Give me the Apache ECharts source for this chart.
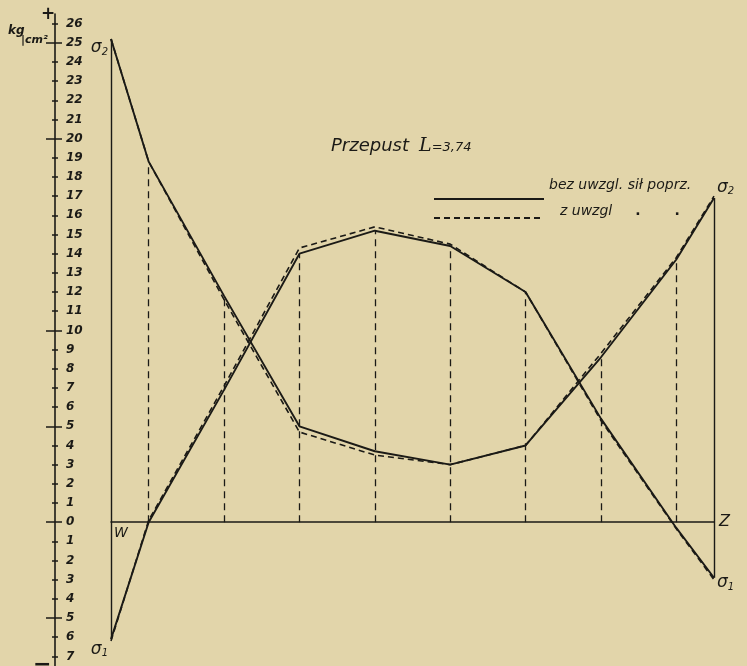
<!DOCTYPE html>
<html>
<head>
<meta charset="utf-8">
<script src="https://cdn.jsdelivr.net/npm/echarts@6/dist/echarts.min.js"></script>
<style>
  html, body { margin: 0; padding: 0; background: #e2d5aa; }
  #chart { width: 747px; height: 666px; }
</style>
</head>
<body>
<div id="chart"></div>
<script>
// Stations along the culvert span (section positions)
const stations = [0, 0.5, 1.5, 2.5, 3.5, 4.5, 5.5, 6.5, 7.5, 8];

// Edge stresses in kg/cm2, without shear forces ("bez uwzgl.")
const sigma2Bez = [25.2, 18.8, 11.8, 5.0, 3.7, 3.0, 4.0, 8.6, 13.7, 16.9];
const sigma1Bez = [-6.1, 0.0, 6.9, 14.0, 15.2, 14.4, 12.0, 5.4, -0.3, -2.9];

// Edge stresses with shear forces taken into account ("z uwzgl.")
const sigma2Z = [25.2, 18.8, 11.6, 4.7, 3.5, 3.0, 4.0, 8.8, 13.8, 17.0];
const sigma1Z = [-6.2, 0.1, 7.1, 14.3, 15.4, 14.5, 12.0, 5.3, -0.35, -3.0];

// Stress scale tick labels
const tickLabels = [-7, -6, -5, -4, -3, -2, -1, 0, 1, 2, 3, 4, 5, 6, 7, 8, 9, 10, 11, 12,
  13, 14, 15, 16, 17, 18, 19, 20, 21, 22, 23, 24, 25, 26];
const majorTicks = [-5, 0, 5, 10, 20, 25];

const nameBez = 'bez uwzgl. sił poprz.';
const nameZ = 'z uwzgl';

const INK = '#1b1a16';
const FONT = "'DejaVu Sans', sans-serif";

const chart = echarts.init(document.getElementById('chart'));

function pairs(arr) {
  return stations.map((x, i) => [x, arr[i]]);
}

function sigmaLabel(idx, position, offset) {
  return {
    show: true,
    position: position,
    distance: 3,
    offset: offset,
    formatter: '{s|σ}{n|' + idx + '}',
    rich: {
      s: { fontFamily: FONT, fontStyle: 'italic', fontSize: 17, color: INK },
      n: { fontFamily: FONT, fontStyle: 'italic', fontSize: 10, color: INK, padding: [9, 0, 0, 0] }
    }
  };
}

function withEndLabels(arr, idx, leftOffset, rightOffset) {
  const d = pairs(arr);
  d[0] = { value: d[0], label: sigmaLabel(idx, 'left', leftOffset) };
  const last = d.length - 1;
  d[last] = { value: d[last], label: sigmaLabel(idx, 'right', rightOffset) };
  return d;
}

// Dashed ordinates from the zero line up to the higher of the two curves
const ordinates = stations.slice(1, -1).map((x, k) => {
  const i = k + 1;
  return [{ coord: [x, 0] }, { coord: [x, Math.max(sigma1Bez[i], sigma2Bez[i])] }];
});
// Solid end ordinates joining sigma1 and sigma2 at the supports
const endOrdinates = [0, stations.length - 1].map(i => [
  { coord: [stations[i], sigma1Bez[i]] }, { coord: [stations[i], sigma2Bez[i]] }
]);

const yBase = {
  type: 'value', min: -7.5, max: 26.5, position: 'left', offset: 56,
  splitLine: { show: false }
};

// Legend label: text sits above the key line, the first row higher than the second
const legendText = { fontFamily: FONT, fontStyle: 'italic', fontSize: 14, color: INK, lineHeight: 16 };

const option = {
  backgroundColor: '#e2d5aa',
  animation: false,
  title: {
    left: 326, top: 132,
    text: '{a|Przepust}  {b|L}{c|=3,74}',
    textStyle: {
      rich: {
        a: { fontFamily: FONT, fontStyle: 'italic', fontWeight: 'normal', fontSize: 18, color: INK },
        b: { fontFamily: "'DejaVu Serif', serif", fontStyle: 'italic', fontWeight: 'normal', fontSize: 19, color: INK },
        c: { fontFamily: FONT, fontStyle: 'italic', fontWeight: 'normal', fontSize: 13, color: INK, padding: [3, 0, 0, 0] }
      }
    }
  },
  legend: {
    left: 428, top: 173, orient: 'vertical', padding: 5,
    itemWidth: 110, itemHeight: 12, itemGap: -16, itemStyle: { opacity: 0 },
    data: [nameBez, nameZ],
    formatter: name => name === nameBez
      ? '{u|' + name + '}'
      : '{v|' + name + '}{d|.}{e|.}',
    textStyle: {
      fontFamily: FONT, fontStyle: 'italic', fontSize: 14, color: INK,
      rich: {
        u: Object.assign({}, legendText, { padding: [0, 0, 28, 0] }),
        v: Object.assign({}, legendText, { padding: [0, 0, 14, 11] }),
        d: Object.assign({}, legendText, { fontStyle: 'normal', fontWeight: 'bold', padding: [0, 0, 14, 23] }),
        e: Object.assign({}, legendText, { fontStyle: 'normal', fontWeight: 'bold', padding: [0, 0, 14, 34] })
      }
    }
  },
  grid: { left: 111, right: 33, top: 14, bottom: 0 },
  xAxis: {
    type: 'value', min: 0, max: 8,
    axisLine: { show: true, onZero: true, lineStyle: { color: INK, width: 1.5 } },
    axisTick: { show: false },
    axisLabel: { show: false },
    splitLine: { show: false },
    name: 'Z', nameLocation: 'end', nameGap: 5,
    nameTextStyle: { fontFamily: FONT, fontStyle: 'italic', fontSize: 16, color: INK }
  },
  yAxis: [
    Object.assign({}, yBase, {
      axisLine: { show: true, onZero: false, lineStyle: { color: INK, width: 1.6 } },
      axisTick: { show: true, inside: true, length: 3, customValues: tickLabels, lineStyle: { color: INK, width: 1.5 } },
      axisLabel: {
        show: true, inside: true, margin: 11, customValues: tickLabels,
        formatter: v => String(Math.abs(v)),
        fontFamily: FONT, fontStyle: 'italic', fontWeight: 'bold', fontSize: 12, color: INK
      }
    }),
    Object.assign({}, yBase, {
      axisLine: { show: false, onZero: false },
      axisTick: { show: true, inside: false, length: 3, customValues: tickLabels, lineStyle: { color: INK, width: 1.5 } },
      axisLabel: { show: false }
    }),
    Object.assign({}, yBase, {
      axisLine: { show: false, onZero: false },
      axisTick: { show: true, inside: true, length: 7, customValues: majorTicks, lineStyle: { color: INK, width: 1.5 } },
      axisLabel: { show: false }
    }),
    Object.assign({}, yBase, {
      axisLine: { show: false, onZero: false },
      axisTick: { show: true, inside: false, length: 9, customValues: majorTicks, lineStyle: { color: INK, width: 1.5 } },
      axisLabel: { show: false }
    })
  ],
  graphic: [
    { type: 'text', left: 41, top: 6, style: { text: '+', fontFamily: FONT, fontWeight: 'bold', fontSize: 17, fill: INK } },
    { type: 'text', left: 8, top: 25, style: { text: 'kg', fontFamily: FONT, fontStyle: 'italic', fontWeight: 'bold', fontSize: 12, fill: INK } },
    { type: 'text', left: 21, top: 35, style: { text: '|cm²', fontFamily: FONT, fontStyle: 'italic', fontWeight: 'bold', fontSize: 11, fill: INK } },
    { type: 'text', left: 33, top: 654, style: { text: '−', fontFamily: FONT, fontWeight: 'bold', fontSize: 22, fill: INK } }
  ],
  series: [
    {
      name: nameBez, type: 'line', symbol: 'circle', symbolSize: 0, showSymbol: true,
      lineStyle: { color: INK, width: 1.9 },
      itemStyle: { color: INK },
      data: withEndLabels(sigma2Bez, 2, [0, 9], [0, -11]),
      markLine: {
        silent: true, symbol: 'none', label: { show: false },
        lineStyle: { color: INK, width: 1.4, type: 'solid' },
        data: endOrdinates
      },
      markPoint: {
        silent: true, symbol: 'circle', symbolSize: 0,
        label: {
          show: true, position: [3, 4], formatter: 'W',
          fontFamily: FONT, fontStyle: 'italic', fontSize: 14, color: INK
        },
        data: [{ coord: [stations[0], 0] }]
      }
    },
    {
      name: nameBez, type: 'line', symbol: 'circle', symbolSize: 0, showSymbol: true,
      lineStyle: { color: INK, width: 1.9 },
      itemStyle: { color: INK },
      data: withEndLabels(sigma1Bez, 1, [0, 10], [0, 5]),
      markLine: {
        silent: true, symbol: 'none', label: { show: false },
        lineStyle: { color: INK, width: 1.3, type: [7, 5] },
        data: ordinates
      }
    },
    {
      name: nameZ, type: 'line', symbol: 'none',
      lineStyle: { color: INK, width: 1.6, type: [6, 4] },
      itemStyle: { color: INK },
      data: pairs(sigma2Z)
    },
    {
      name: nameZ, type: 'line', symbol: 'none',
      lineStyle: { color: INK, width: 1.6, type: [6, 4] },
      itemStyle: { color: INK },
      data: pairs(sigma1Z)
    }
  ]
};

chart.setOption(option);
</script>
</body>
</html>
